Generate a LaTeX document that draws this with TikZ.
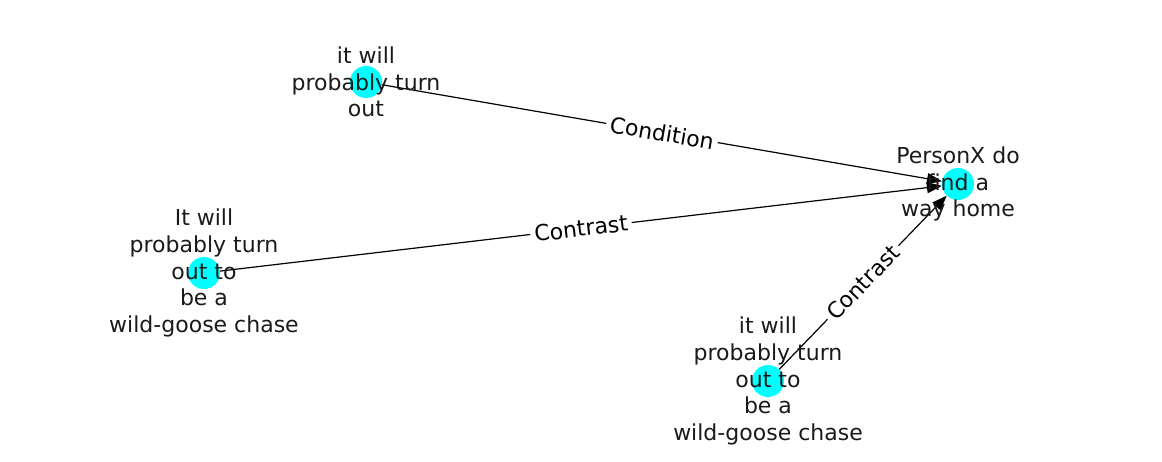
\documentclass[tikz,border=0pt]{standalone}
\usepackage{fontspec}
\setmainfont{DejaVu Sans}
\usetikzlibrary{arrows.meta}
\definecolor{nodecyan}{RGB}{0,255,255}
\definecolor{txt}{RGB}{26,26,26}
\begin{document}
\begin{tikzpicture}[x=1pt,y=-1pt,
  dot/.style={circle,fill=nodecyan,draw=none,minimum size=32pt,inner sep=0pt},
  txtlabel/.style={align=center,text=txt,font=\fontsize{22}{26.6}\selectfont,inner sep=0pt},
  edge/.style={draw=black,line width=1.2pt,-{Triangle[length=15pt,width=11pt]},shorten >=0pt},
  elabel/.style={fill=white,sloped,midway,font=\fontsize{22}{26.6}\selectfont,inner sep=4pt,text=black}]
\useasboundingbox (0,0) rectangle (1162,462);
\node[dot] (top) at (366,82) {};
\node[dot] (left) at (204,273) {};
\node[dot] (right) at (958,184) {};
\node[dot] (bot) at (768,381) {};
\draw[edge] (top) -- (right) node[elabel] {Condition};
\draw[edge] (left) -- (right) node[elabel] {Contrast};
\draw[edge] (bot) -- (right) node[elabel] {Contrast};
\node[txtlabel] (ttop) at (366,82) {it will\\probably turn\\out};
\node[txtlabel] (tleft) at (204,273) {It will\\probably turn\\out to\\be a\\wild-goose chase};
\node[txtlabel] (tright) at (958,184) {PersonX do\\find a\\way home};
\node[txtlabel] (tbot) at (768,381) {it will\\probably turn\\out to\\be a\\wild-goose chase};
\end{tikzpicture}
\end{document}
